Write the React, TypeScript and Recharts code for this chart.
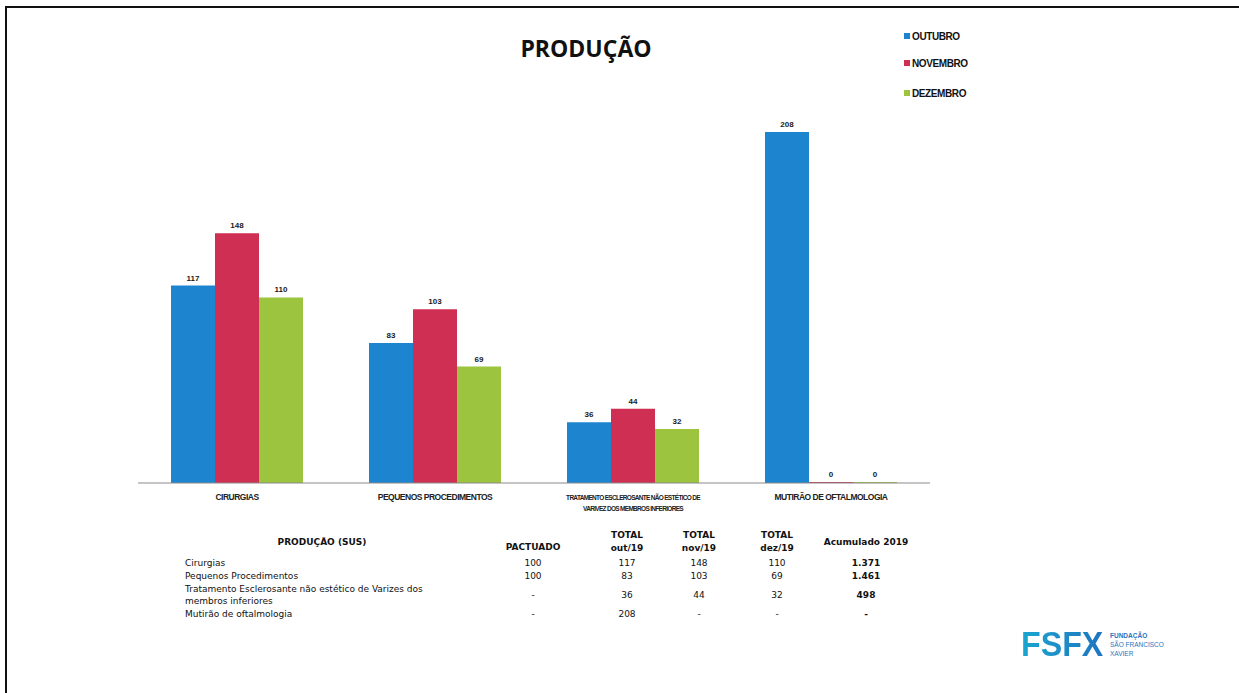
import { BarChart, Bar, XAxis, YAxis, LabelList } from 'recharts';

const categories = [
  'CIRURGIAS',
  'PEQUENOS PROCEDIMENTOS',
  'TRATAMENTO ESCLEROSANTE NÃO ESTÉTICO DE|VARIVEZ DOS MEMBROS INFERIORES',
  'MUTIRÃO DE OFTALMOLOGIA',
];
const outubro = [117, 83, 36, 208];
const novembro = [148, 103, 44, 0];
const dezembro = [110, 69, 32, 0];

const seriesNames = ['OUTUBRO', 'NOVEMBRO', 'DEZEMBRO'];
const seriesColors = ['#1d84d0', '#cf2f52', '#9cc43f'];

// table below the chart
const rowLabels = [
  ['Cirurgias'],
  ['Pequenos Procedimentos'],
  ['Tratamento Esclerosante não estético de Varizes dos', 'membros inferiores'],
  ['Mutirão de oftalmologia'],
];
const pactuado = ['100', '100', '-', '-'];
const totalOut = ['117', '83', '36', '208'];
const totalNov = ['148', '103', '44', '-'];
const totalDez = ['110', '69', '32', '-'];
const acumulado = ['1.371', '1.461', '498', '-'];

const data = categories.map((name, i) => ({
  name,
  outubro: outubro[i],
  novembro: novembro[i],
  dezembro: dezembro[i],
}));

const CategoryTick = (props: any) => {
  const { x, y, payload } = props;
  const lines: string[] = String(payload.value).split('|');
  const long = lines.length > 1;
  return (
    <text
      x={x}
      y={y}
      textAnchor="middle"
      fill="#222"
      fontFamily="'Liberation Sans', Arial, sans-serif"
      fontWeight="bold"
      fontSize={long ? 6.5 : 8.5}
      letterSpacing={long ? -0.7 : -0.5}
    >
      {lines.map((l, i) => (
        <tspan key={i} x={x} dy={i === 0 ? 9 : 11}>
          {l}
        </tspan>
      ))}
    </text>
  );
};

const LegendBox = () => (
  <div
    style={{
      position: 'absolute',
      left: 904,
      top: 29,
      fontFamily: "'Liberation Sans', Arial, sans-serif",
    }}
  >
    {seriesNames.map((n, i) => (
      <div
        key={n}
        style={{
          display: 'flex',
          alignItems: 'center',
          height: 14,
          marginBottom: i === 0 ? 13 : 16,
          fontSize: 10,
          fontWeight: 'bold',
          letterSpacing: -0.4,
          color: '#111',
        }}
      >
        <span
          style={{
            width: 6,
            height: 6,
            background: seriesColors[i],
            marginRight: 2,
            display: 'inline-block',
          }}
        />
        {n}
      </div>
    ))}
  </div>
);

const labelStyle = {
  fontSize: 8,
  fontWeight: 'bold' as const,
  fill: '#1a1a1a',
  fontFamily: "'Liberation Sans', Arial, sans-serif",
};

// keep zero bars so their "0" labels are drawn
const zeroMin = (v: any) => (v === 0 ? 1 : 0);

const colX = [533, 627, 699, 777, 866];
const rowY = [563, 576, 595, 614];
const valueCols = [pactuado, totalOut, totalNov, totalDez, acumulado];

const cell = (x: number, y: number, text: string, bold = false, key?: string) => (
  <div
    key={key}
    style={{
      position: 'absolute',
      left: x,
      top: y,
      transform: 'translate(-50%, -50%)',
      whiteSpace: 'nowrap',
      fontWeight: bold ? 'bold' : 'normal',
    }}
  >
    {text}
  </div>
);

const headTotal = (x: number, sub: string) => (
  <div
    style={{
      position: 'absolute',
      left: x,
      top: 542,
      transform: 'translate(-50%, -50%)',
      textAlign: 'center',
      fontWeight: 'bold',
      lineHeight: '13px',
    }}
  >
    TOTAL
    <br />
    {sub}
  </div>
);

export default function App() {
  return (
    <div
      style={{
        position: 'fixed',
        left: 0,
        top: 0,
        width: 1239,
        height: 693,
        background: '#fff',
        overflow: 'hidden',
      }}
    >
      <div
        style={{
          position: 'absolute',
          left: 5,
          top: 6,
          width: 1240,
          height: 700,
          borderTop: '2px solid #111',
          borderLeft: '2px solid #111',
        }}
      />
      <div
        style={{
          position: 'absolute',
          left: 586,
          top: 48,
          transform: 'translate(-50%, -50%)',
          fontFamily: "'Open Sans', sans-serif",
          fontWeight: 700,
          fontSize: 23,
          color: '#111',
        }}
      >
        PRODUÇÃO
      </div>

      <div style={{ position: 'absolute', left: 0, top: 0 }}>
        <BarChart
          width={1239}
          height={530}
          data={data}
          margin={{ top: 78, right: 309, left: 138, bottom: 0 }}
          barCategoryGap={33}
          barGap={0}
        >
          <XAxis
            dataKey="name"
            height={47}
            interval={0}
            tickLine={false}
            axisLine={{ stroke: '#8a8a8a' }}
            tick={<CategoryTick />}
          />
          <YAxis hide domain={[0, 240]} />
          <Bar dataKey="outubro" name="OUTUBRO" fill={seriesColors[0]} isAnimationActive={false}>
            <LabelList dataKey="outubro" position="top" style={labelStyle} />
          </Bar>
          <Bar
            dataKey="novembro"
            name="NOVEMBRO"
            fill={seriesColors[1]}
            minPointSize={zeroMin}
            isAnimationActive={false}
          >
            <LabelList dataKey="novembro" position="top" style={labelStyle} />
          </Bar>
          <Bar
            dataKey="dezembro"
            name="DEZEMBRO"
            fill={seriesColors[2]}
            minPointSize={zeroMin}
            isAnimationActive={false}
          >
            <LabelList dataKey="dezembro" position="top" style={labelStyle} />
          </Bar>
        </BarChart>
      </div>

      <LegendBox />

      {/* production table */}
      <div
        style={{
          position: 'absolute',
          left: 0,
          top: 0,
          width: 1239,
          height: 693,
          fontFamily: "'DejaVu Sans', Verdana, sans-serif",
          fontSize: 9,
          color: '#111',
        }}
      >
        {cell(322, 542, 'PRODUÇÃO (SUS)', true)}
        {cell(533, 547, 'PACTUADO', true)}
        {headTotal(627, 'out/19')}
        {headTotal(699, 'nov/19')}
        {headTotal(777, 'dez/19')}
        {cell(866, 542, 'Acumulado 2019', true)}

        {rowLabels.map((lines, r) => (
          <div
            key={'l' + r}
            style={{
              position: 'absolute',
              left: 185,
              top: rowY[r],
              transform: 'translateY(-50%)',
              lineHeight: '12px',
              whiteSpace: 'nowrap',
            }}
          >
            {lines.map((l, i) => (
              <div key={i}>{l}</div>
            ))}
          </div>
        ))}
        {valueCols.map((col, c) =>
          col.map((v, r) => cell(colX[c], rowY[r], v, c === 4, `v${c}-${r}`))
        )}
      </div>

      {/* logo */}
      <div
        style={{
          position: 'absolute',
          left: 1021,
          top: 625,
          fontFamily: "'Liberation Sans', Arial, sans-serif",
          fontWeight: 900,
          fontSize: 35,
          letterSpacing: 0,
          background: 'linear-gradient(90deg, #1aa6d0, #1f74c0)',
          WebkitBackgroundClip: 'text',
          color: 'transparent',
          lineHeight: '38px',
          transform: 'scaleX(0.92)',
          transformOrigin: 'left',
        }}
      >
        FSFX
      </div>
      <div
        style={{
          position: 'absolute',
          left: 1110,
          top: 631,
          fontFamily: "'Liberation Sans', Arial, sans-serif",
          fontSize: 6.5,
          lineHeight: '9px',
          color: '#1f74c0',
        }}
      >
        <div style={{ fontWeight: 'bold' }}>FUNDAÇÃO</div>
        <div>SÃO FRANCISCO</div>
        <div>XAVIER</div>
      </div>
    </div>
  );
}
